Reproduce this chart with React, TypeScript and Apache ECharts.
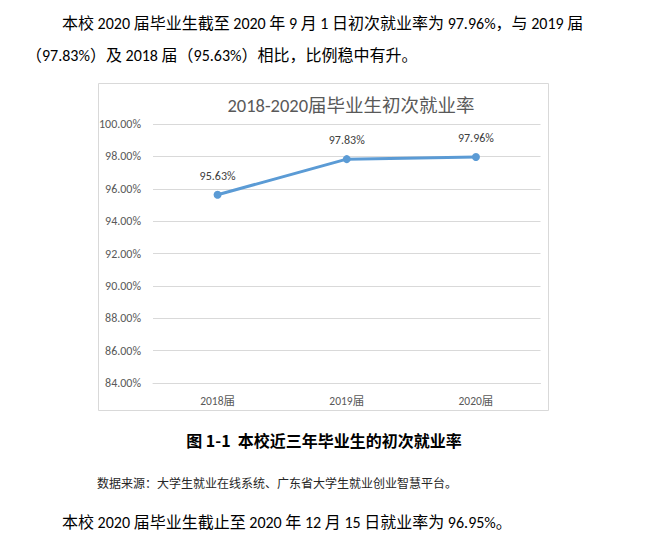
import React, { useEffect, useRef } from "react";
import * as echarts from "echarts";

const categories = ["2018届", "2019届", "2020届"];
const rates = [95.63, 97.83, 97.96];
const yMin = 84;
const yMax = 100;
const yStep = 2;

const chartTitle = "2018-2020届毕业生初次就业率";
const para1a = "本校 2020 届毕业生截至 2020 年 9 月 1 日初次就业率为 97.96%，与 2019 届";
const para1b = "（97.83%）及 2018 届（95.63%）相比，比例稳中有升。";
const caption = "图 1-1  本校近三年毕业生的初次就业率";
const source = "数据来源：大学生就业在线系统、广东省大学生就业创业智慧平台。";
const para2 = "本校 2020 届毕业生截止至 2020 年 12 月 15 日就业率为 96.95%。";

const FONT = "Calibri, Carlito, Lato, 'Noto Sans CJK SC', sans-serif";
const CJK = "'Noto Sans CJK SC', sans-serif";

export default function App() {
  const ref = useRef<HTMLDivElement>(null);
  useEffect(() => {
    if (!ref.current) return;
    const chart = echarts.init(ref.current, undefined, { renderer: "svg" });
    chart.setOption({
      animation: false,
      backgroundColor: "#ffffff",
      grid: { left: 153, right: 117.5, top: 124, bottom: 157, containLabel: false },
      xAxis: {
        type: "category",
        data: categories,
        boundaryGap: true,
        axisLine: { show: true, lineStyle: { color: "#d9d9d9", width: 1 } },
        axisTick: { show: false },
        axisLabel: { color: "#595959", fontSize: 11.5, fontFamily: FONT, margin: 12 },
      },
      yAxis: {
        type: "value",
        min: yMin,
        max: yMax,
        interval: yStep,
        axisLine: { show: false },
        axisTick: { show: false },
        splitLine: { show: true, lineStyle: { color: "#d9d9d9", width: 1 } },
        axisLabel: {
          color: "#595959",
          fontSize: 12,
          fontFamily: FONT,
          margin: 12,
          formatter: (v: number) => v.toFixed(2) + "%",
        },
      },
      series: [
        {
          type: "line",
          data: rates,
          symbol: "circle",
          symbolSize: 8,
          lineStyle: { color: "#5B9BD5", width: 3 },
          itemStyle: { color: "#5B9BD5" },
          label: {
            show: true,
            position: "top",
            distance: 9,
            color: "#404040",
            fontSize: 12,
            fontFamily: FONT,
            formatter: (p: any) => p.value.toFixed(2) + "%",
          },
        },
      ],
      graphic: [
        {
          type: "rect",
          shape: { x: 98.5, y: 83.5, width: 450, height: 327 },
          style: { fill: "none", stroke: "#d9d9d9", lineWidth: 1 },
          z: -1,
        },
        {
          type: "text",
          x: 351,
          y: 105,
          style: {
            text: chartTitle,
            fill: "#595959",
            font: `18.5px ${FONT}`,
            align: "center",
            verticalAlign: "middle",
          },
        },
        {
          type: "text",
          x: 62,
          y: 23,
          style: { text: para1a, fill: "#000000", font: `16px ${FONT}`, align: "left", verticalAlign: "middle" },
        },
        {
          type: "text",
          x: 26,
          y: 55,
          style: { text: para1b, fill: "#000000", font: `16px ${FONT}`, align: "left", verticalAlign: "middle" },
        },
        {
          type: "text",
          x: 324,
          y: 440,
          style: {
            text: caption,
            fill: "#000000",
            font: `bold 16px ${CJK}`,
            align: "center",
            verticalAlign: "middle",
          },
        },
        {
          type: "text",
          x: 97,
          y: 482,
          style: { text: source, fill: "#262626", font: `12px ${CJK}`, align: "left", verticalAlign: "middle" },
        },
        {
          type: "text",
          x: 62,
          y: 522,
          style: { text: para2, fill: "#000000", font: `16px ${FONT}`, align: "left", verticalAlign: "middle" },
        },
      ],
    });
    return () => chart.dispose();
  }, []);
  return (
    <div
      ref={ref}
      style={{ position: "absolute", left: 0, top: 0, width: 658, height: 540 }}
    />
  );
}
